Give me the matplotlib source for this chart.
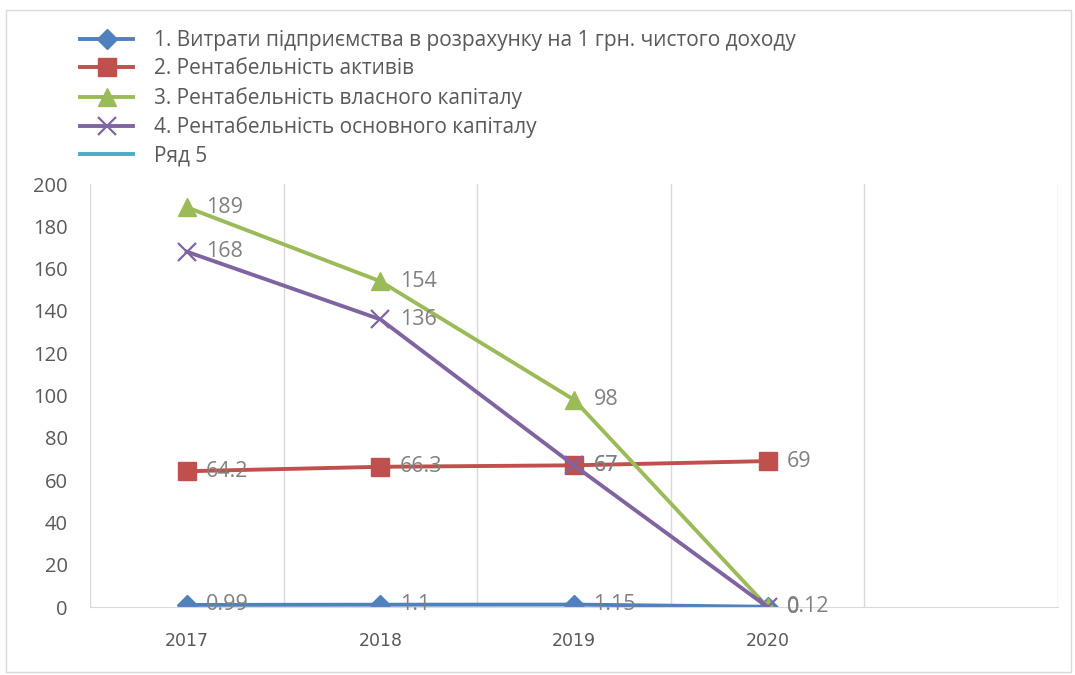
import numpy as np
import matplotlib
matplotlib.use("Agg")
import matplotlib.pyplot as plt
from matplotlib.patches import Rectangle

plt.rcParams['font.family'] = ['Open Sans', 'DejaVu Sans']

years = ['2017', '2018', '2019', '2020', '']
s1 = [0.99, 1.1, 1.15, 0.12]
s2 = [64.2, 66.3, 67, 69]
s3 = [189, 154, 98, 0]
s4 = [168, 136, 67, 0]
s5 = []

names = ['1. Витрати підприємства в розрахунку на 1 грн. чистого доходу',
         '2. Рентабельність активів',
         '3. Рентабельність власного капіталу',
         '4. Рентабельність основного капіталу',
         'Ряд 5']
colors = ['#4F81BD', '#C0504D', '#9BBB59', '#8064A2', '#4BACC6']
markers = ['D', 's', '^', 'x', None]
msizes = [10, 13, 13, 13, 0]

fig = plt.figure(figsize=(10.75, 6.75), dpi=100)
ax = fig.add_axes([0.0837, 0.1007, 0.9005, 0.6267])

grid_c = '#D9D9D9'
lines = []
for vals, name, c, m, ms in zip([s1, s2, s3, s4, s5], names, colors, markers, msizes):
    x = np.arange(len(vals))
    if m == 'x':
        ln, = ax.plot(x, vals, color=c, lw=2.8, marker=m, ms=ms, mew=1.6, label=name)
    elif m is None:
        ln, = ax.plot(x, vals, color=c, lw=2.8, label=name)
    else:
        ln, = ax.plot(x, vals, color=c, lw=2.8, marker=m, ms=ms, label=name)
    lines.append(ln)
    for xi, v in zip(x, vals):
        ax.annotate(f'{v:g}', (xi, v), xytext=(14, 0), textcoords='offset points',
                    va='center', ha='left', fontsize=15.5, color='#808080')

ax.set_xlim(-0.5, 4.5)
ax.set_ylim(0, 200)
ax.set_yticks(range(0, 201, 20))
ax.set_xticks(range(5))
ax.set_xticklabels(years)
for b in np.arange(-0.5, 4.6, 1):
    ax.axvline(b, color=grid_c, lw=1, zorder=0)
for sp in ['top', 'right', 'left']:
    ax.spines[sp].set_visible(False)
ax.spines['bottom'].set_color(grid_c)
ax.tick_params(axis='both', length=0, colors='#595959')
ax.tick_params(axis='y', labelsize=14.5, pad=16)
ax.tick_params(axis='x', labelsize=12.5, pad=18)
for t in ax.get_xticklabels():
    t.set_fontfamily('DejaVu Sans')

leg = fig.legend(handles=lines, loc='upper left', bbox_to_anchor=(80 / 1075, 1 - 30 / 675),
                 frameon=False, fontsize=15, handlelength=2.55, labelspacing=0.36,
                 handletextpad=1.0, borderpad=0, borderaxespad=0, labelcolor='#595959')

fig.patches.append(Rectangle((0.006, 0.005), 0.99, 0.98, transform=fig.transFigure,
                             fill=False, edgecolor=grid_c, lw=1))

fig.savefig('out.png', dpi=100)
